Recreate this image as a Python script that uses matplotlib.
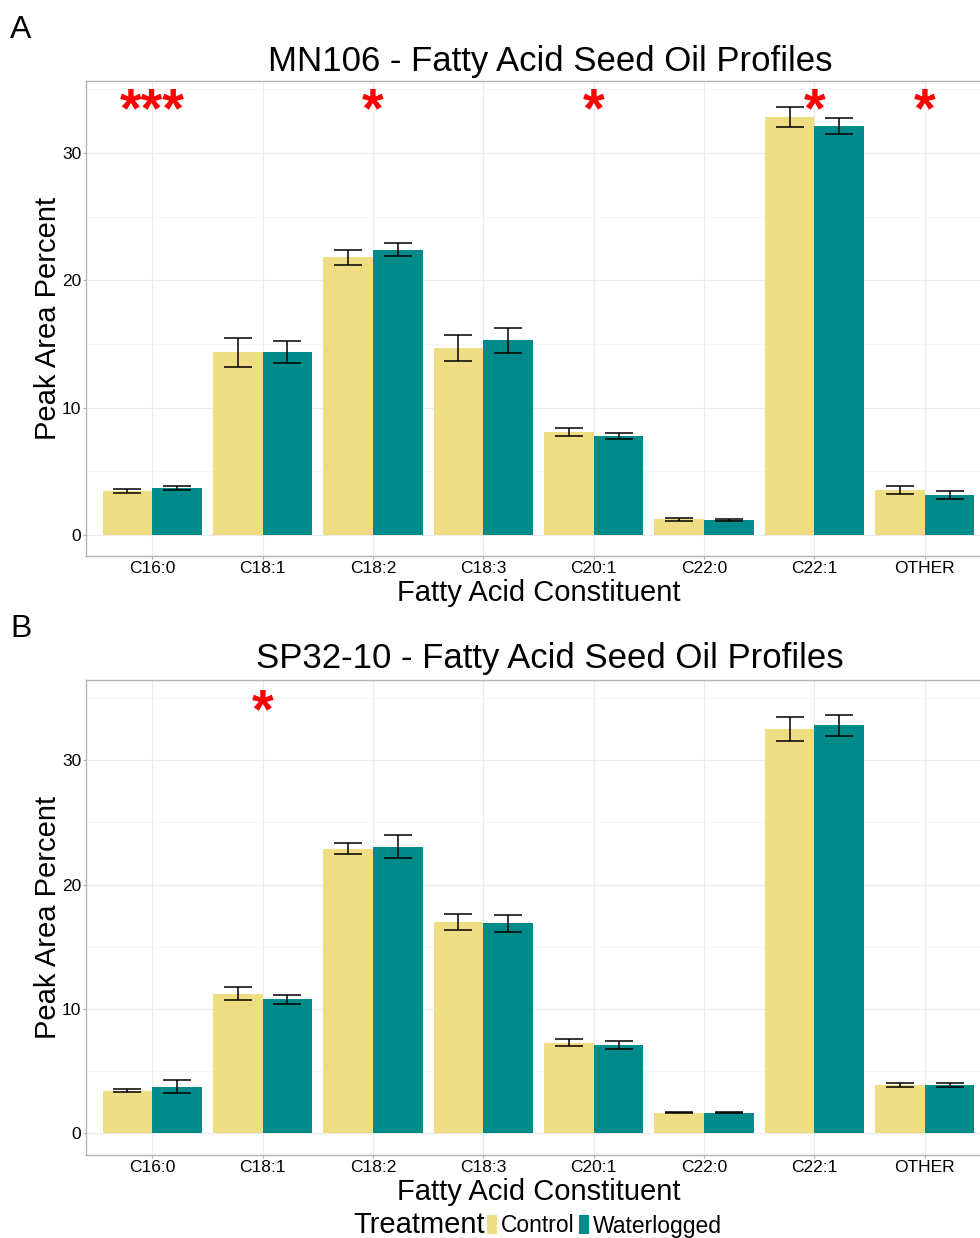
import matplotlib
matplotlib.use("Agg")
import matplotlib.pyplot as plt
import numpy as np

plt.rcParams['font.family'] = ['Liberation Sans', 'DejaVu Sans']

# data
acids = ["C16:0", "C18:1", "C18:2", "C18:3", "C20:1", "C22:0", "C22:1", "OTHER"]

mn_control = [3.45, 14.37, 21.8, 14.69, 8.09, 1.23, 32.84, 3.51]
mn_control_se = [0.15, 1.14, 0.57, 1.05, 0.28, 0.12, 0.81, 0.30]
mn_water = [3.69, 14.35, 22.4, 15.29, 7.78, 1.20, 32.13, 3.14]
mn_water_se = [0.18, 0.86, 0.50, 0.96, 0.27, 0.08, 0.63, 0.33]
mn_sig = ["***", "", "*", "", "*", "", "*", "*"]

sp_control = [3.40, 11.21, 22.9, 16.99, 7.26, 1.63, 32.53, 3.88]
sp_control_se = [0.13, 0.54, 0.43, 0.63, 0.28, 0.05, 1.00, 0.16]
sp_water = [3.72, 10.76, 23.06, 16.88, 7.10, 1.63, 32.82, 3.86]
sp_water_se = [0.51, 0.38, 0.95, 0.71, 0.33, 0.05, 0.84, 0.19]
sp_sig = ["", "*", "", "", "", "", "", ""]

treatments = ["Control", "Waterlogged"]
colors = ["#EEDD82", "#008B8B"]


def draw_panel(ax, ctrl, ctrl_se, wat, wat_se, sig, sig_y, ylim, title, title_y):
    x = np.arange(len(acids))
    w = 0.45
    bars = []
    for off, vals, se, col, lab in [(-w / 2, ctrl, ctrl_se, colors[0], treatments[0]),
                                    (w / 2, wat, wat_se, colors[1], treatments[1])]:
        b = ax.bar(x + off, vals, width=w, color=col, label=lab, zorder=2)
        ax.errorbar(x + off, vals, yerr=se, fmt='none', ecolor='black',
                    elinewidth=1.1, capsize=10, capthick=1.1, zorder=3)
        bars.append(b)
    for xi, s in zip(x, sig):
        if s:
            ax.text(xi, sig_y, s, color='red', fontsize=40, fontweight='bold',
                    ha='center', va='baseline', zorder=4)
    ax.set_xlim(-0.6, len(acids) - 0.4)
    ax.set_ylim(*ylim)
    ax.set_xticks(x)
    ax.set_xticklabels(acids)
    ax.set_yticks([0, 10, 20, 30])
    ax.set_yticks([5, 15, 25, 35], minor=True)
    ax.grid(True, which='major', color='#EBEBEB', lw=0.9, zorder=0)
    ax.grid(True, which='minor', axis='y', color='#F5F5F5', lw=0.7, zorder=0)
    ax.set_axisbelow(True)
    for sp in ax.spines.values():
        sp.set_color('#B3B3B3')
        sp.set_linewidth(1.0)
    ax.tick_params(axis='both', which='major', colors='#B3B3B3', length=2.5,
                   labelcolor='black', labelsize=12.5, pad=1)
    ax.tick_params(axis='y', which='minor', length=0)
    ax.set_xlabel("Fatty Acid Constituent", fontsize=21, labelpad=2)
    ax.set_ylabel("Peak Area Percent", fontsize=21, labelpad=0)
    ax.figure.text(550 / 980, 1 - title_y / 1238, title, fontsize=25,
                   ha='center', va='center')
    return bars


fig = plt.figure(figsize=(9.8, 12.38), dpi=100)
ax1 = fig.add_axes([86 / 980, 1 - 556 / 1238, 905 / 980, 475 / 1238])
ax2 = fig.add_axes([86 / 980, 1 - 1155 / 1238, 905 / 980, 475 / 1238])

bars = draw_panel(ax1, mn_control, mn_control_se, mn_water, mn_water_se, mn_sig,
                  32.1, (-1.65, 35.66), "MN106 - Fatty Acid Seed Oil Profiles", 61)
draw_panel(ax2, sp_control, sp_control_se, sp_water, sp_water_se, sp_sig,
           32.65, (-1.77, 36.47), "SP32-10 - Fatty Acid Seed Oil Profiles", 659)

fig.text(10 / 980, 1 - 30 / 1238, "A", fontsize=23, ha='left', va='center')
fig.text(10 / 980, 1 - 629 / 1238, "B", fontsize=23, ha='left', va='center')

# legend along the bottom
fig.text(353 / 980, 1 - 1233 / 1238, "Treatment", fontsize=21, ha='left', va='baseline')
fig.legend(bars, treatments, loc='center left', bbox_to_anchor=(487 / 980, 1 - 1226 / 1238),
           ncol=2, frameon=False, fontsize=16.5, handlelength=0.45, handleheight=0.9,
           handletextpad=0.17, columnspacing=0.17, borderpad=0, borderaxespad=0)

fig.savefig("out.png", dpi=100)
